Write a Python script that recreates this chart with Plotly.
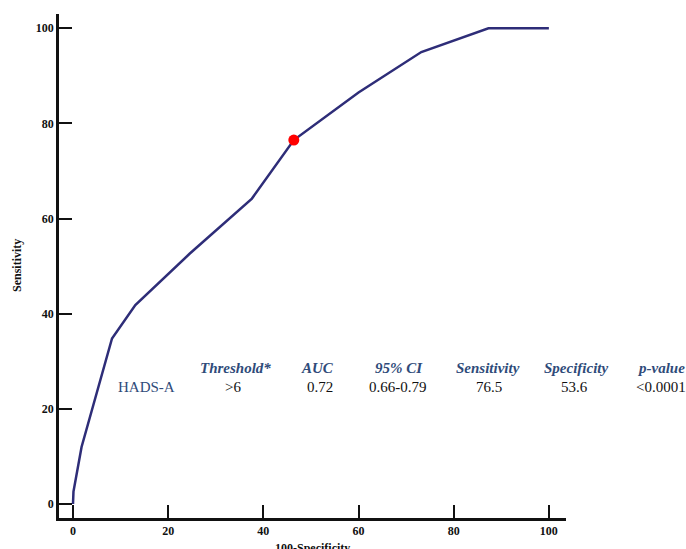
import plotly.graph_objects as go

# ROC curve points (100-Specificity, Sensitivity)
fpr = [0, 0.1, 1.8, 5.1, 8.2, 13.1, 24.5, 37.6, 46.4, 60.0, 73.2, 87.3, 100]
sens = [0, 2.6, 12.0, 24.0, 34.8, 41.8, 52.6, 64.2, 76.5, 86.5, 95.0, 100, 100]

# optimal cut-off point
cut_x = [46.4]
cut_y = [76.5]

# table contents
headers = ["Threshold*", "AUC", "95% CI", "Sensitivity", "Specificity", "p-value"]
values = [">6", "0.72", "0.66-0.79", "76.5", "53.6", "<0.0001"]
row_label = "HADS-A"

tick_vals = [0, 20, 40, 60, 80, 100]

SERIF = "Liberation Serif, Times New Roman, serif"
BLUE = "#2f4b7a"

fig = go.Figure()
fig.add_trace(go.Scatter(x=fpr, y=sens, mode="lines",
                         line=dict(color="#2e2d78", width=2.5),
                         showlegend=False, hoverinfo="skip"))
fig.add_trace(go.Scatter(x=cut_x, y=cut_y, mode="markers",
                         marker=dict(color="#ff0000", size=11),
                         showlegend=False))

# table annotations (paper x positions, data y positions)
hdr_x = [0.3478, 0.5094, 0.6709, 0.8457, 1.0207, 1.1872]
val_x = [0.3438, 0.5143, 0.6690, 0.8483, 1.0177, 1.1882]
for hx, h in zip(hdr_x, headers):
    fig.add_annotation(x=hx, y=28.6, xref="paper", yref="y", xanchor="center",
                       text="<b><i>%s</i></b>" % h,
                       showarrow=False, font=dict(family=SERIF, size=15, color=BLUE))
for vx, v in zip(val_x, values):
    fig.add_annotation(x=vx, y=24.5, xref="paper", yref="y", xanchor="center",
                       text=v.replace("<", "&lt;").replace(">", "&gt;"),
                       showarrow=False, font=dict(family=SERIF, size=15, color="#111111"))
fig.add_annotation(x=0.1724, y=24.5, xref="paper", yref="y", xanchor="center", text=row_label,
                   showarrow=False, font=dict(family=SERIF, size=15, color=BLUE))

# axis titles
fig.add_annotation(x=0.5, y=0, xref="paper", yref="paper", xanchor="center", yanchor="top",
                   yshift=-21, text="<b>100-Specificity</b>", showarrow=False,
                   font=dict(family=SERIF, size=12, color="#111111"))
fig.add_annotation(x=0, y=0.5, xref="paper", yref="paper", xanchor="center", yanchor="middle",
                   xshift=-42, text="<b>Sensitivity</b>", textangle=-90, showarrow=False,
                   font=dict(family=SERIF, size=12, color="#111111"))

axis_common = dict(showgrid=False, zeroline=False, showline=True, linecolor="#111111",
                   linewidth=2.5, ticks="inside", ticklen=13, tickwidth=2, tickcolor="#111111",
                   tickvals=tick_vals, ticktext=["<b>%d</b>" % t for t in tick_vals],
                   tickfont=dict(family=SERIF, size=12, color="#111111"))

fig.update_xaxes(range=[-2.94, 103.6], **axis_common)
fig.update_yaxes(range=[-2.94, 103.0], **axis_common)

fig.update_layout(width=686, height=549, plot_bgcolor="white", paper_bgcolor="white",
                  margin=dict(l=58.5, r=120, t=13.5, b=31), showlegend=False)

# remove the default 8px page margin so the 686x549 figure fills the window exactly
fig.write_html("out.html",
               config={"displayModeBar": False},
               post_script="document.body.style.margin='0';document.body.style.overflow='hidden';")
